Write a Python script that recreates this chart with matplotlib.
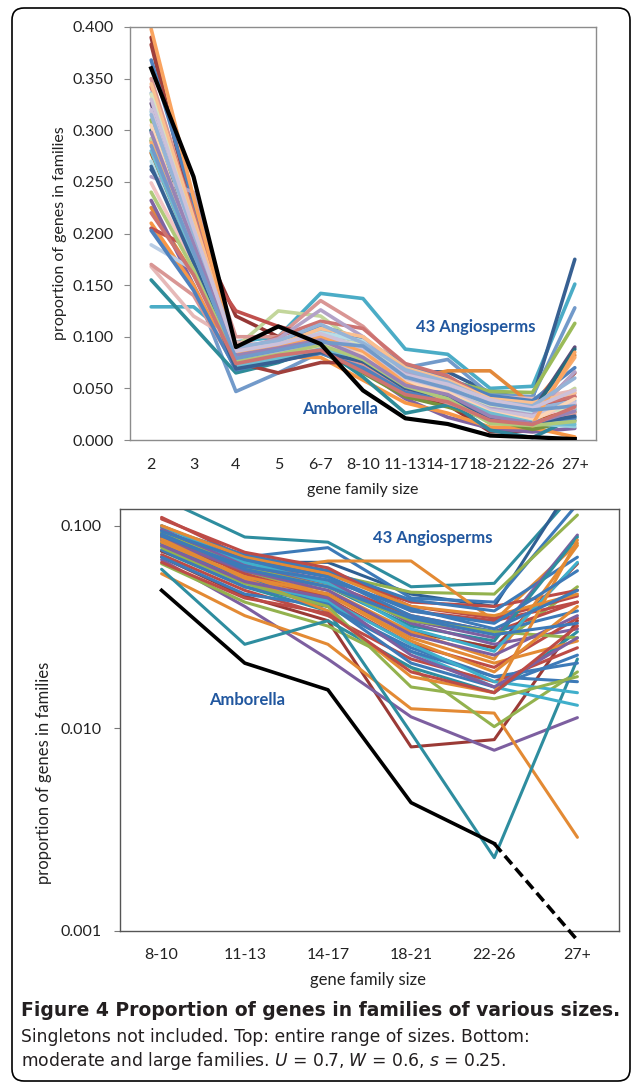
import matplotlib
matplotlib.use("Agg")
import matplotlib.pyplot as plt
import numpy as np
from matplotlib.patches import FancyBboxPatch
from matplotlib.transforms import IdentityTransform

plt.rcParams['mathtext.fontset'] = 'dejavusans'

sizes = ['2', '3', '4', '5', '6-7', '8-10', '11-13', '14-17', '18-21', '22-26', '27+']

# proportion of genes per family-size class, one entry per angiosperm (43)
p_2 = [0.129, 0.262, 0.205, 0.310, 0.225, 0.390, 0.232, 0.210, 0.290, 0.300, 0.155, 0.318, 0.292, 0.350, 0.205,
       0.383, 0.168, 0.368, 0.342, 0.336, 0.326, 0.300, 0.288, 0.278, 0.270, 0.255, 0.249, 0.189, 0.170, 0.203,
       0.345, 0.335, 0.320, 0.305, 0.280, 0.265, 0.398, 0.315, 0.240, 0.298, 0.330, 0.285, 0.220]
p_3 = [0.129, 0.200, 0.150, 0.180, 0.160, 0.210, 0.150, 0.150, 0.170, 0.190, 0.110, 0.190, 0.175, 0.220, 0.185,
       0.220, 0.120, 0.230, 0.220, 0.210, 0.200, 0.195, 0.180, 0.175, 0.170, 0.240, 0.170, 0.165, 0.140, 0.145,
       0.215, 0.205, 0.195, 0.185, 0.178, 0.172, 0.235, 0.200, 0.165, 0.190, 0.205, 0.182, 0.160]
p_4 = [0.095, 0.075, 0.047, 0.070, 0.080, 0.120, 0.068, 0.070, 0.072, 0.080, 0.065, 0.085, 0.090, 0.100, 0.125,
       0.075, 0.095, 0.078, 0.082, 0.088, 0.076, 0.079, 0.083, 0.074, 0.086, 0.088, 0.080, 0.072, 0.070, 0.068,
       0.084, 0.081, 0.077, 0.073, 0.071, 0.069, 0.085, 0.090, 0.076, 0.082, 0.086, 0.079, 0.074]
p_5 = [0.100, 0.090, 0.065, 0.085, 0.082, 0.100, 0.078, 0.080, 0.085, 0.090, 0.075, 0.095, 0.125, 0.100, 0.110,
       0.065, 0.090, 0.095, 0.100, 0.092, 0.088, 0.086, 0.090, 0.083, 0.094, 0.098, 0.085, 0.080, 0.078, 0.077,
       0.092, 0.087, 0.084, 0.081, 0.079, 0.076, 0.090, 0.096, 0.083, 0.089, 0.093, 0.087, 0.082]
p_6_7 = [0.142, 0.100, 0.085, 0.095, 0.085, 0.090, 0.088, 0.080, 0.085, 0.100, 0.090, 0.110, 0.120, 0.135, 0.100,
         0.075, 0.100, 0.110, 0.115, 0.105, 0.098, 0.092, 0.096, 0.090, 0.104, 0.126, 0.094, 0.090, 0.086, 0.084,
         0.108, 0.100, 0.094, 0.091, 0.088, 0.085, 0.100, 0.112, 0.092, 0.097, 0.103, 0.095, 0.087]
p_8_10 = [0.137, 0.092, 0.085, 0.088, 0.075, 0.070, 0.068, 0.058, 0.065, 0.075, 0.061, 0.080, 0.090, 0.110, 0.090,
          0.075, 0.100, 0.098, 0.108, 0.095, 0.090, 0.082, 0.084, 0.080, 0.096, 0.100, 0.088, 0.082, 0.072, 0.070,
          0.100, 0.092, 0.086, 0.083, 0.079, 0.076, 0.086, 0.094, 0.078, 0.080, 0.089, 0.091, 0.066]
p_11_13 = [0.088, 0.066, 0.070, 0.062, 0.058, 0.045, 0.040, 0.036, 0.042, 0.050, 0.026, 0.050, 0.060, 0.070, 0.062,
           0.055, 0.068, 0.072, 0.074, 0.066, 0.064, 0.060, 0.056, 0.054, 0.064, 0.066, 0.058, 0.055, 0.048, 0.046,
           0.070, 0.062, 0.060, 0.056, 0.052, 0.050, 0.055, 0.068, 0.052, 0.053, 0.063, 0.061, 0.044]
p_14_17 = [0.083, 0.066, 0.078, 0.058, 0.067, 0.034, 0.022, 0.026, 0.032, 0.038, 0.034, 0.042, 0.045, 0.060, 0.052,
           0.046, 0.058, 0.060, 0.062, 0.056, 0.052, 0.050, 0.048, 0.046, 0.054, 0.052, 0.044, 0.040, 0.036, 0.040,
           0.058, 0.050, 0.048, 0.046, 0.043, 0.041, 0.038, 0.056, 0.040, 0.044, 0.054, 0.050, 0.037]
p_18_21 = [0.050, 0.046, 0.044, 0.047, 0.067, 0.0081, 0.0114, 0.0125, 0.020, 0.0095, 0.020, 0.024, 0.030, 0.040, 0.036,
           0.030, 0.042, 0.043, 0.038, 0.036, 0.034, 0.032, 0.030, 0.028, 0.033, 0.031, 0.026, 0.024, 0.022, 0.025,
           0.040, 0.034, 0.029, 0.027, 0.026, 0.021, 0.018, 0.038, 0.016, 0.023, 0.039, 0.035, 0.019]
p_22_26 = [0.052, 0.040, 0.042, 0.046, 0.034, 0.0088, 0.0078, 0.0119, 0.0102, 0.0023, 0.015, 0.016, 0.025, 0.035, 0.030,
           0.025, 0.040, 0.038, 0.034, 0.030, 0.028, 0.027, 0.022, 0.021, 0.026, 0.024, 0.020, 0.018, 0.017, 0.018,
           0.036, 0.030, 0.023, 0.019, 0.017, 0.016, 0.015, 0.033, 0.014, 0.016, 0.031, 0.029, 0.015]
p_27 = [0.151, 0.175, 0.128, 0.113, 0.082, 0.034, 0.0113, 0.0029, 0.019, 0.022, 0.030, 0.013, 0.050, 0.045, 0.042,
        0.065, 0.048, 0.070, 0.042, 0.038, 0.090, 0.088, 0.080, 0.027, 0.031, 0.066, 0.035, 0.017, 0.025, 0.021,
        0.046, 0.028, 0.036, 0.040, 0.015, 0.023, 0.085, 0.060, 0.018, 0.028, 0.048, 0.033, 0.032]

amborella = [0.360, 0.255, 0.090, 0.110, 0.093, 0.048, 0.021, 0.0155, 0.0043, 0.0027, 0.0009]

angio = np.column_stack([p_2, p_3, p_4, p_5, p_6_7, p_8_10, p_11_13, p_14_17, p_18_21, p_22_26, p_27])

top_colors = ['#4BACC6', '#376092', '#729ACA', '#9BBB59', '#E2893B', '#953735', '#8064A2', '#F79646',
              '#77933C', '#31859C', '#2E8C99', '#93CDDD', '#C3D69B', '#D99694', '#C0504D', '#A0403C',
              '#E6B9B8', '#4F81BD', '#CD7371', '#95B3D7', '#604A7B', '#276A7C', '#F9AB6B', '#B65708',
              '#B7DEE8', '#B3A2C7', '#F2C4C4', '#B9CDE5', '#D99694', '#4F81BD', '#FAC090', '#D7E4BD',
              '#CCC1DA', '#FCD5B5', '#6FBDD1', '#366092', '#FAA460', '#95B3D7', '#AFC97A', '#9983B5',
              '#CCC1DA', '#729ACA', '#CD7371']
hue = {'b': '#3D7AB8', 'd': '#2F5F93', 'r': '#BD4B46', 'k': '#9B3A36', 'g': '#93B24E',
       'p': '#7D5FA0', 't': '#2E8D9F', 'l': '#3FAFCB', 'o': '#E38A34'}
bottom_hues = 'tdbgokpogttlgrrkrbrbptooplrbrbogpolbobgpbbr'
bottom_colors = [hue[h] for h in bottom_hues]

fig = plt.figure(figsize=(6.32, 10.85), dpi=100)
W, H = 632.0, 1085.0

tick_font = 'Lato'
label_blue = '#21579F'

# ---- top panel: all sizes, linear
ax1 = fig.add_axes([130 / W, 1 - 440 / H, 466 / W, 413 / H])
x = np.arange(len(sizes))
for i in range(angio.shape[0]):
    ax1.plot(x, angio[i], color=top_colors[i], lw=2.6, solid_capstyle='round', solid_joinstyle='round')
ax1.plot(x, amborella, color='black', lw=3.0, zorder=5)
ax1.set_xlim(-0.5, len(sizes) - 0.5)
ax1.set_ylim(0, 0.4)
ax1.set_yticks(np.arange(0, 0.401, 0.05))
ax1.set_yticklabels(['%.3f' % v for v in np.arange(0, 0.401, 0.05)])
ax1.set_xticks(x)
ax1.set_xticklabels(sizes)
ax1.tick_params(axis='x', length=0, pad=13)
ax1.tick_params(axis='y', length=4, pad=8, color='#888888')
for s in ax1.spines.values():
    s.set_color('#8c8c8c')
    s.set_linewidth(1.0)
for lab in ax1.get_xticklabels() + ax1.get_yticklabels():
    lab.set_fontfamily(tick_font)
    lab.set_fontsize(11.5)
    lab.set_color('#222222')
fig.text(60 / W, 1 - 233 / H, 'proportion of genes in families', rotation=90, ha='center', va='center',
         family=tick_font, fontsize=11.5, color='#222222')
fig.text(363 / W, 1 - 490 / H, 'gene family size', ha='center', va='center',
         family=tick_font, fontsize=11.5, color='#222222')
fig.text(476 / W, 1 - 327 / H, '43 Angiosperms', ha='center', va='center', family=tick_font,
         weight='bold', fontsize=12, color=label_blue)
fig.text(340 / W, 1 - 409 / H, 'Amborella', ha='center', va='center', family=tick_font,
         weight='bold', fontsize=12, color=label_blue)

# ---- bottom panel: moderate and large families, log scale
big = sizes[5:]
xb = np.arange(len(big))
ax2 = fig.add_axes([120 / W, 1 - 931 / H, 499 / W, 422 / H])
for i in range(angio.shape[0]):
    ax2.plot(xb, angio[i, 5:], color=bottom_colors[i], lw=2.2, solid_capstyle='round', solid_joinstyle='round')
amb_big = amborella[5:]
ax2.plot(xb[:5], amb_big[:5], color='black', lw=2.6, zorder=5)
ax2.plot(xb[4:], amb_big[4:], color='black', lw=2.6, ls=(0, (3, 1.5)), zorder=5, clip_on=False)
ax2.set_yscale('log')
ax2.set_xlim(-0.5, len(big) - 0.5)
ax2.set_ylim(0.001, 0.121)
ax2.set_yticks([0.001, 0.01, 0.1])
ax2.set_yticklabels(['0.001', '0.010', '0.100'])
ax2.yaxis.set_minor_locator(matplotlib.ticker.NullLocator())
ax2.set_xticks(xb)
ax2.set_xticklabels(big)
ax2.tick_params(axis='x', length=0, pad=12)
ax2.tick_params(axis='y', length=4, pad=9, color='#777777')
for s in ax2.spines.values():
    s.set_color('#555555')
    s.set_linewidth(1.0)
for lab in ax2.get_xticklabels() + ax2.get_yticklabels():
    lab.set_fontfamily(tick_font)
    lab.set_fontsize(11.5)
    lab.set_color('#222222')
fig.text(44 / W, 1 - 773 / H, 'proportion of genes in families', rotation=90, ha='center', va='center',
         family=tick_font, fontsize=12, color='#222222')
fig.text(368 / W, 1 - 980 / H, 'gene family size', ha='center', va='center',
         family=tick_font, fontsize=12, color='#222222')
fig.text(433 / W, 1 - 538 / H, '43 Angiosperms', ha='center', va='center', family=tick_font,
         weight='bold', fontsize=12, color=label_blue)
fig.text(247 / W, 1 - 700 / H, 'Amborella', ha='center', va='center', family=tick_font,
         weight='bold', fontsize=12, color=label_blue)

# ---- caption
cap_col = '#231F20'
fig.text(21 / W, 1 - 1010 / H, 'Figure 4 Proportion of genes in families of various sizes.', ha='left',
         va='center', family='DejaVu Sans', weight='bold', fontsize=13.5, color=cap_col)
fig.text(21 / W, 1 - 1037 / H, 'Singletons not included. Top: entire range of sizes. Bottom:', ha='left',
         va='center', family='DejaVu Sans', fontsize=12.3, color=cap_col)
fig.text(21 / W, 1 - 1061 / H, 'moderate and large families. $U$ = 0.7, $W$ = 0.6, $s$ = 0.25.', ha='left',
         va='center', family='DejaVu Sans', fontsize=12.3, color=cap_col)

# rounded frame around the whole figure (pixel coordinates)
frame = FancyBboxPatch((12, 1085 - 1081), 618, 1073, boxstyle='round,pad=0,rounding_size=12',
                       transform=IdentityTransform(), fill=False, ec='black', lw=1.2)
fig.patches.append(frame)

fig.savefig('out.png', dpi=100)
